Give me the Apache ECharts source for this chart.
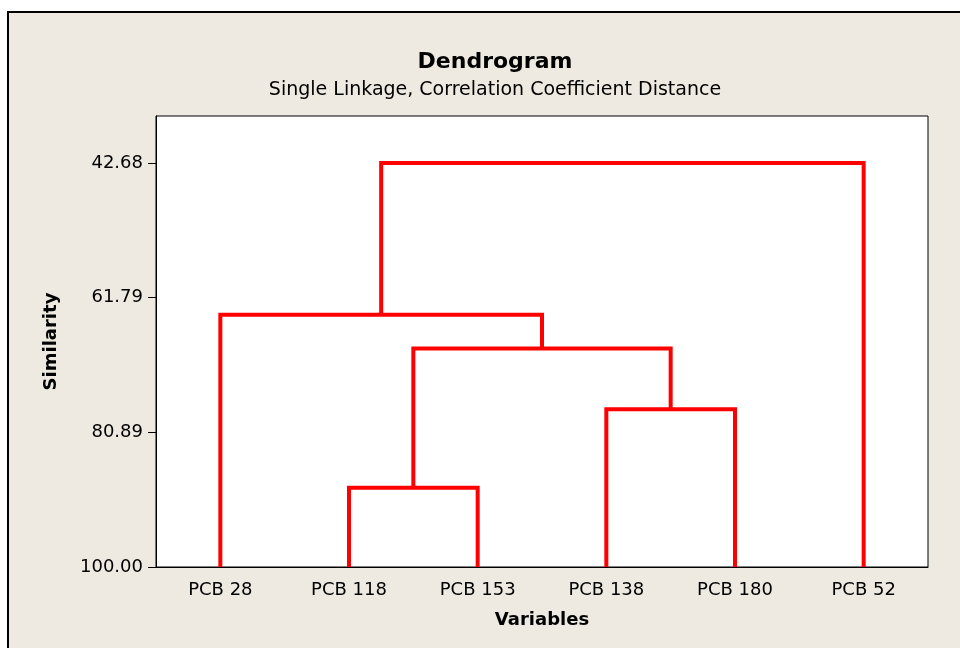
<!DOCTYPE html>
<html>
<head>
<meta charset="utf-8">
<script src="https://cdn.jsdelivr.net/npm/echarts@6/dist/echarts.min.js"></script>
<style>
  html, body { margin: 0; padding: 0; background: #fff; }
  #chart { width: 960px; height: 648px; }
</style>
</head>
<body>
<div id="chart"></div>
<script>
// leaves in plotted order
const leaves = ['PCB 28', 'PCB 118', 'PCB 153', 'PCB 138', 'PCB 180', 'PCB 52']
// merges: node ids 0..5 are leaves, each merge creates node 6, 7, ...
const mergeA = [1, 3, 6, 0, 9]
const mergeB = [2, 4, 7, 8, 5]
const mergeSim = [88.75, 77.6, 69.0, 64.2, 42.68]
// y axis tick labels
const yTicks = [42.68, 61.79, 80.89, 100.0]

const colors = {
  bg: '#EEEAE1',
  line: '#FF0000',
  text: '#000000'
}
const fontName = 'Tahoma, "DejaVu Sans", sans-serif'

// node positions (x = leaf index or mean of children, y = similarity)
const nodeX = leaves.map((_, i) => i)
const nodeY = leaves.map(() => 100)
const series = []
mergeA.forEach((a, i) => {
  const b = mergeB[i]
  const h = mergeSim[i]
  series.push({
    type: 'line',
    xAxisIndex: 1,
    symbol: 'none',
    animation: false,
    lineStyle: { color: colors.line, width: 4, join: 'miter', cap: 'butt' },
    data: [
      [nodeX[a], nodeY[a]],
      [nodeX[a], h],
      [nodeX[b], h],
      [nodeX[b], nodeY[b]]
    ]
  })
  nodeX.push((nodeX[a] + nodeX[b]) / 2)
  nodeY.push(h)
})

const chart = echarts.init(document.getElementById('chart'))
chart.setOption({
  backgroundColor: '#fff',
  animation: false,
  graphic: [{
    type: 'rect',
    z: -10,
    shape: { x: 8, y: 12, width: 980, height: 660 },
    style: { fill: colors.bg, stroke: '#000', lineWidth: 2 }
  }],
  title: [{
    text: 'Dendrogram',
    left: 490,
    top: 46,
    textAlign: 'center',
    textStyle: { fontFamily: fontName, fontSize: 22, fontWeight: 'bold', color: colors.text }
  }, {
    text: 'Single Linkage, Correlation Coefficient Distance',
    left: 490,
    top: 76,
    textAlign: 'center',
    textStyle: { fontFamily: fontName, fontSize: 19, fontWeight: 'normal', color: colors.text }
  }],
  grid: {
    left: 156,
    right: 32,
    top: 116,
    bottom: 81,
    show: true,
    backgroundColor: '#fff',
    borderColor: '#000',
    borderWidth: 1
  },
  xAxis: [{
    type: 'category',
    data: leaves,
    name: 'Variables',
    nameLocation: 'middle',
    nameGap: 44,
    nameTextStyle: { fontFamily: fontName, fontSize: 18, fontWeight: 'bold', color: colors.text },
    axisLine: { lineStyle: { color: '#000', width: 1 } },
    axisTick: { alignWithLabel: true, length: 8, lineStyle: { color: '#000' } },
    axisLabel: { margin: 14, fontFamily: fontName, fontSize: 18, color: colors.text },
    splitLine: { show: false }
  }, {
    type: 'value',
    min: -0.5,
    max: 5.5,
    show: false
  }],
  yAxis: {
    type: 'value',
    inverse: true,
    min: 36.0,
    max: 100,
    name: 'Similarity',
    nameLocation: 'middle',
    nameGap: 96,
    nameTextStyle: { fontFamily: fontName, fontSize: 18, fontWeight: 'bold', color: colors.text },
    axisLine: { show: true, onZero: false, lineStyle: { color: '#000', width: 1 } },
    axisTick: { show: true, length: 8, customValues: yTicks, lineStyle: { color: '#000' } },
    axisLabel: {
      margin: 13,
      customValues: yTicks,
      fontFamily: fontName,
      fontSize: 18,
      color: colors.text,
      formatter: v => v.toFixed(2)
    },
    splitLine: { show: false }
  },
  series: series
})
</script>
</body>
</html>
